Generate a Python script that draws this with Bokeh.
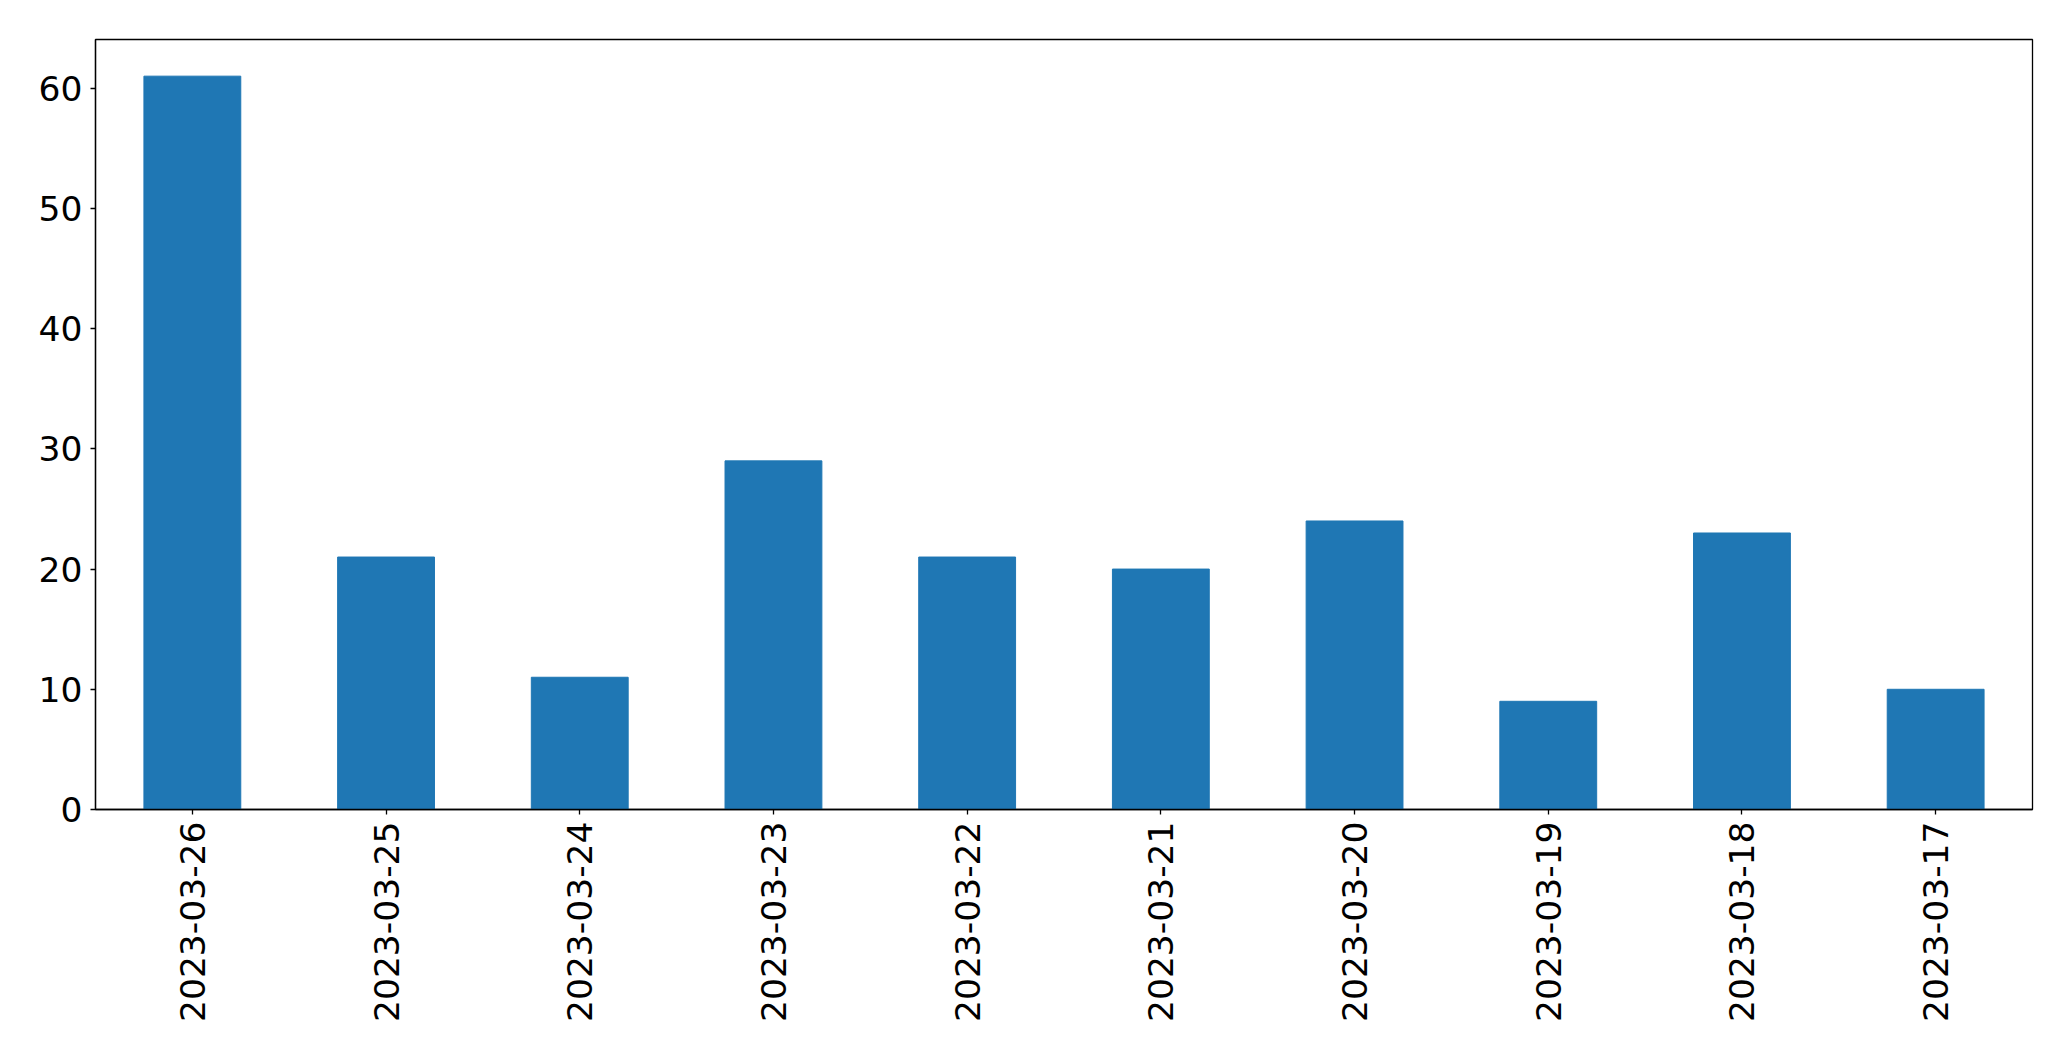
import math
from bokeh.plotting import figure
from bokeh.models import Range1d, FactorRange
from bokeh.embed import file_html
from bokeh.resources import INLINE

dates = ["2023-03-26", "2023-03-25", "2023-03-24", "2023-03-23", "2023-03-22",
         "2023-03-21", "2023-03-20", "2023-03-19", "2023-03-18", "2023-03-17"]
counts = [61, 21, 11, 29, 21, 20, 24, 9, 23, 10]

p = figure(width=2071, height=1061, output_backend="svg", toolbar_location=None,
           x_range=FactorRange(factors=dates, range_padding=0),
           y_range=Range1d(0, max(counts) * 1.05),
           min_border_left=95, min_border_right=39, min_border_top=39,
           min_border_bottom=252)

p.vbar(x=dates, top=counts, width=0.5, color="#1f77b4")

p.xgrid.visible = False
p.ygrid.visible = False
p.outline_line_color = "black"
p.outline_line_width = 1.3

for ax in (p.xaxis[0], p.yaxis[0]):
    ax.axis_line_color = "black"
    ax.axis_line_width = 1.3
    ax.major_tick_in = 0
    ax.major_tick_out = 5
    ax.major_tick_line_width = 1.3
    ax.minor_tick_line_color = None
    ax.major_label_text_font = "DejaVu Sans"
    ax.major_label_text_font_size = "34.5px"
    ax.major_label_text_color = "black"

p.yaxis.ticker = [0, 10, 20, 30, 40, 50, 60]
p.yaxis.major_label_standoff = 8
p.xaxis.major_label_orientation = math.pi / 2
p.xaxis.major_label_standoff = 7

open("out.html", "w").write(file_html(p, INLINE))
